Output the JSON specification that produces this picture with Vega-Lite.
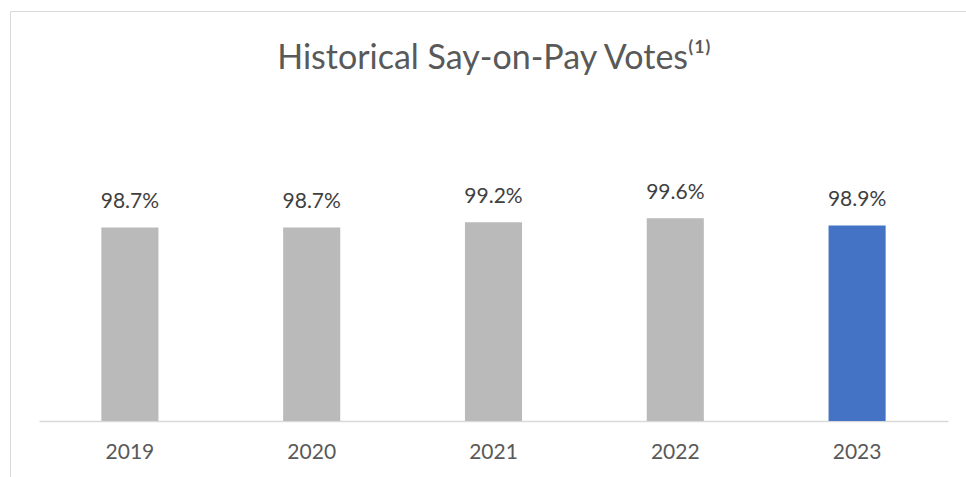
{
  "$schema": "https://vega.github.io/schema/vega-lite/v6.json",
  "width": 1000,
  "height": 520,
  "autosize": {"type": "none"},
  "padding": {"left": 10, "top": 11, "right": 0, "bottom": 0},
  "background": "white",
  "view": {"stroke": "#d9d9d9", "strokeWidth": 1},
  "title": {
    "text": "Historical Say-on-Pay Votes⁽¹⁾",
    "font": "Lato",
    "fontSize": 34,
    "fontWeight": "normal",
    "color": "#595959",
    "anchor": "middle",
    "frame": "group",
    "offset": 0,
    "baseline": "alphabetic",
    "dx": -16,
    "dy": 92
  },
  "data": {
    "values": [
      {"year": "2019", "value": 0.987, "current": "no"},
      {"year": "2020", "value": 0.987, "current": "no"},
      {"year": "2021", "value": 0.992, "current": "no"},
      {"year": "2022", "value": 0.996, "current": "no"},
      {"year": "2023", "value": 0.989, "current": "yes"}
    ]
  },
  "encoding": {
    "x": {
      "field": "year",
      "type": "ordinal",
      "scale": {"range": [29, 938], "paddingInner": 0.686, "paddingOuter": 0.343},
      "axis": {
        "title": null,
        "labelAngle": 0,
        "ticks": false,
        "domainColor": "#d9d9d9",
        "domainWidth": 1.5,
        "labelFont": "Lato",
        "labelFontSize": 21,
        "labelColor": "#595959",
        "labelPadding": 20,
        "offset": -110
      }
    }
  },
  "layer": [
    {
      "mark": {"type": "bar"},
      "encoding": {
        "y": {
          "field": "value",
          "type": "quantitative",
          "scale": {"domain": [0.8, 1.0], "range": [410, 203], "zero": false},
          "axis": null
        },
        "y2": {"datum": 0.8},
        "color": {
          "field": "current",
          "type": "nominal",
          "scale": {"domain": ["no", "yes"], "range": ["#bababa", "#4472c4"]},
          "legend": null
        }
      }
    },
    {
      "mark": {"type": "text", "font": "Lato", "fontSize": 21, "color": "#404040", "baseline": "middle", "dy": -25},
      "encoding": {
        "y": {"field": "value", "type": "quantitative"},
        "text": {"field": "value", "type": "quantitative", "format": ".1%"}
      }
    }
  ]
}
